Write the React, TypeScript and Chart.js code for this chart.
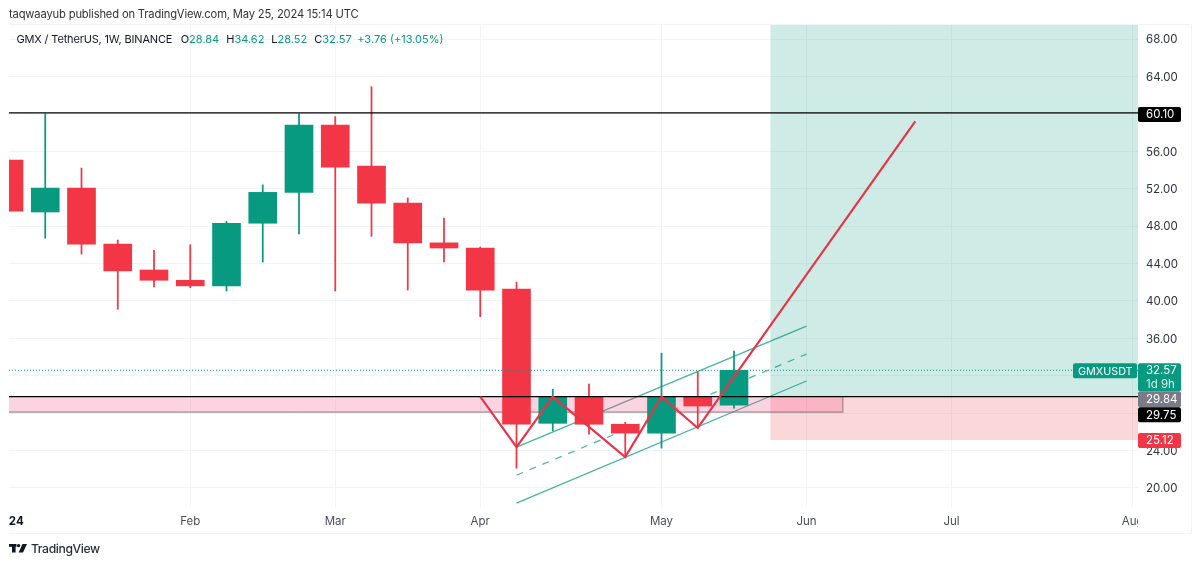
import { useEffect, useRef } from "react";
import { Chart, registerables } from "chart.js";

Chart.register(...registerables);

const UP = "#089981";
const DOWN = "#f23645";
const FONT = "Inter, 'Liberation Sans', sans-serif";

// weekly candles, index 0 is the first partly visible one
const opens = [55.06, 49.5, 52.06, 46.07, 43.3, 42.2, 41.6, 48.3, 51.6, 58.8, 54.4, 50.45, 46.2, 45.65, 41.25, 26.9, 29.7, 26.8, 25.85, 29.7, 28.84];
const closes = [49.6, 52.06, 46.07, 43.2, 42.2, 41.6, 48.3, 51.6, 58.8, 54.3, 50.45, 46.2, 45.65, 41.15, 26.8, 29.7, 26.8, 25.85, 29.7, 28.75, 32.57];
const highs = [55.06, 60, 54.2, 46.5, 45.4, 46, 48.5, 52.4, 60, 59.7, 62.9, 51, 48.85, 45.75, 42, 30.55, 31.1, 27, 34.4, 32.4, 34.62];
const lows = [49.6, 46.7, 45, 39.1, 41.5, 41.4, 41.05, 44.15, 47.15, 41.05, 46.9, 41.15, 44.15, 38.3, 22.1, 26.1, 25.75, 23.3, 24.25, 26.4, 28.52];

const priceTicks = [20, 24, 28, 32, 36, 40, 44, 48, 52, 56, 60, 64, 68];
const monthTicks = [0.2, 5, 9, 13, 18, 22, 26, 31];
const monthLabels = ["24", "Feb", "Mar", "Apr", "May", "Jun", "Jul", "Aug"];

const xMin = 0;
const xMax = 31.145;
const yMin = 17.95;
const yMax = 69.5;

// drawings
const resistance = 60.1;
const support = 29.75;
const lastPrice = 32.57;
const stopPrice = 25.12;
const zoneBottom = 28.1;
const zoneEnd = 23;
const boxStart = 21;

const channelX = [14, 22];
const channelUpper = [24.35, 37.3];
const channelMiddle = [21.35, 34.3];
const channelLower = [18.37, 31.42];

const zigzagX = [13, 14, 15, 17, 18, 19, 25];
const zigzagY = [29.75, 24.35, 29.75, 23.3, 29.75, 26.4, 59.2];

const headerLine = "taqwaayub published on TradingView.com, May 25, 2024 15:14 UTC";
const legendTitle = "GMX / TetherUS, 1W, BINANCE";
const legendParts: Array<[string, string, number]> = [
  ["O", "#131722", 0],
  ["28.84", UP, 7],
  ["H", "#131722", 0],
  ["34.62", UP, 7],
  ["L", "#131722", 0],
  ["28.52", UP, 7],
  ["C", "#131722", 0],
  ["32.57", UP, 5.5],
  ["+3.76 (+13.05%)", UP, 0],
];

const flat = (y: number, x0 = xMin, x1 = xMax) => [{ x: x0, y }, { x: x1, y }];
const pairs = (xs: number[], ys: number[]) => xs.map((x, i) => ({ x, y: ys[i] }));
const candleColor = opens.map((o, i) => (closes[i] >= o ? UP : DOWN));

const lineBase = { type: "line" as const, pointRadius: 0, borderJoinStyle: "miter" as const };

function tag(
  ctx: CanvasRenderingContext2D,
  x: number,
  top: number,
  w: number,
  h: number,
  bg: string,
  lines: string[],
  colors: string[] = ["#fff"],
  inset = 8,
  size = 11.5
) {
  ctx.fillStyle = bg;
  ctx.beginPath();
  ctx.roundRect(x, top, w, h, 2);
  ctx.fill();
  ctx.font = `${size}px ${FONT}`;
  ctx.textAlign = "left";
  ctx.textBaseline = "middle";
  const step = h / lines.length;
  lines.forEach((text, i) => {
    ctx.fillStyle = colors[i] ?? colors[0];
    ctx.fillText(text, x + inset, top + step * i + step / 2 + 0.5);
  });
}

const framePlugin = {
  id: "frame",
  beforeDraw(chart: Chart) {
    const { ctx } = chart;
    ctx.save();
    ctx.strokeStyle = "#f0f3fa";
    ctx.lineWidth = 1;
    ctx.beginPath();
    ctx.moveTo(9, 24.5);
    ctx.lineTo(1191.5, 24.5);
    ctx.lineTo(1191.5, 533.5);
    ctx.lineTo(9, 533.5);
    ctx.stroke();
    ctx.restore();
  },
};

const textPlugin = {
  id: "texts",
  afterDraw(chart: Chart) {
    const { ctx } = chart;
    const y = chart.scales.y;
    ctx.save();

    // the price axis hides the end of the last month label
    ctx.fillStyle = "#fff";
    ctx.fillRect(1138, 509, 12, 22);

    ctx.textBaseline = "middle";
    ctx.textAlign = "left";
    (ctx as any).letterSpacing = "-0.16px";
    ctx.font = `11.2px ${FONT}`;
    ctx.fillStyle = "#333";
    ctx.fillText(headerLine, 9, 14.5);

    ctx.font = `11px ${FONT}`;
    ctx.fillStyle = "#131722";
    ctx.fillText(legendTitle, 16.5, 39.5);
    (ctx as any).letterSpacing = "0px";

    let x = 180.7;
    legendParts.forEach(([text, color, gap]) => {
      ctx.fillStyle = color;
      ctx.fillText(text, x, 39.5);
      x += ctx.measureText(text).width + gap;
    });

    // price tags
    const lastTop = y.getPixelForValue(lastPrice) - 7;
    tag(ctx, 1138, y.getPixelForValue(resistance) - 6, 43, 15, "#000", ["60.10"]);
    tag(ctx, 1073, lastTop, 64, 15, UP, ["GMXUSDT"], ["#fff"], 5, 10.8);
    tag(ctx, 1138, lastTop, 43, 28, UP, ["32.57", "1d 9h"], ["#fff", "#d5efe9"]);
    tag(ctx, 1138, lastTop + 28, 43, 16, "#7b7b88", ["29.84"]);
    tag(ctx, 1138, lastTop + 44, 43, 15, "#000", ["29.75"]);
    tag(ctx, 1138, y.getPixelForValue(stopPrice) - 7, 43, 15, DOWN, ["25.12"]);

    // footer logo
    ctx.fillStyle = "#131722";
    ctx.fillRect(9, 544, 7.5, 2.8);
    ctx.fillRect(12, 544, 3.6, 8.5);
    ctx.beginPath();
    ctx.arc(18.6, 545.6, 1.7, 0, Math.PI * 2);
    ctx.fill();
    ctx.beginPath();
    ctx.moveTo(22.5, 544);
    ctx.lineTo(27, 544);
    ctx.lineTo(23, 552.5);
    ctx.lineTo(18.6, 552.5);
    ctx.closePath();
    ctx.fill();

    (ctx as any).letterSpacing = "-0.4px";
    ctx.font = `500 12.2px ${FONT}`;
    ctx.fillStyle = "#2a2e39";
    ctx.fillText("TradingView", 31, 549.5);
    ctx.restore();
  },
};

export default function App() {
  const canvasRef = useRef<HTMLCanvasElement>(null);

  useEffect(() => {
    if (!canvasRef.current) return;
    document.body.style.margin = "0";

    const chart = new Chart(canvasRef.current, {
      type: "bar",
      data: {
        datasets: [
          // take profit / stop boxes
          {
            ...lineBase,
            data: flat(yMax, boxStart),
            borderWidth: 0,
            backgroundColor: "rgba(8,153,129,0.2)",
            fill: { value: support },
            order: 10,
          },
          {
            ...lineBase,
            data: flat(stopPrice, boxStart),
            borderWidth: 0,
            backgroundColor: "rgba(242,54,69,0.2)",
            fill: { value: support },
            order: 10,
          },
          // channel
          { ...lineBase, data: pairs(channelX, channelUpper), borderColor: "rgba(8,153,129,0.75)", borderWidth: 1.2, order: 9 },
          { ...lineBase, data: pairs(channelX, channelMiddle), borderColor: "rgba(8,153,129,0.75)", borderWidth: 1.2, borderDash: [7, 7], order: 9 },
          { ...lineBase, data: pairs(channelX, channelLower), borderColor: "rgba(8,153,129,0.75)", borderWidth: 1.2, order: 9 },
          // support zone, with the grey edge on bottom and right
          {
            ...lineBase,
            data: flat(support, xMin, zoneEnd),
            borderWidth: 0,
            backgroundColor: "rgba(244,70,125,0.24)",
            fill: { value: zoneBottom },
            order: 8,
          },
          {
            ...lineBase,
            data: [{ x: xMin, y: zoneBottom }, { x: zoneEnd, y: zoneBottom }, { x: zoneEnd, y: support }],
            borderColor: "rgba(120,110,115,0.55)",
            borderWidth: 1.6,
            order: 8,
          },
          // candles
          {
            data: highs.map((h, i) => ({ x: i, y: [lows[i], h] })),
            backgroundColor: candleColor,
            barThickness: 1.1,
            grouped: false,
            order: 7,
          },
          {
            data: opens.map((o, i) => ({ x: i, y: [o, closes[i]] })),
            backgroundColor: candleColor,
            barThickness: 28,
            grouped: false,
            order: 6,
          },
          // last price
          {
            ...lineBase,
            data: flat(lastPrice),
            borderColor: UP,
            borderWidth: 1,
            borderDash: [1, 2],
            order: 5,
          },
          // horizontal levels
          { ...lineBase, data: flat(resistance), borderColor: "#000", borderWidth: 1.2, order: 4 },
          { ...lineBase, data: flat(support), borderColor: "#000", borderWidth: 1.4, order: 4 },
          // projected path
          { ...lineBase, data: pairs(zigzagX, zigzagY), borderColor: "#e8344a", borderWidth: 2.2, order: 3 },
        ] as any,
      },
      options: {
        responsive: false,
        animation: false,
        events: [],
        layout: { padding: { left: 9, top: 25, right: 9, bottom: 32 } },
        plugins: { legend: { display: false }, tooltip: { enabled: false } },
        scales: {
          x: {
            type: "linear",
            min: xMin,
            max: xMax,
            offset: false,
            border: { display: false },
            grid: {
              offset: false,
              drawTicks: false,
              color: (c: any) => (c.index === 0 ? "transparent" : "#f2f3f6"),
            },
            afterBuildTicks: (axis: any) => {
              axis.ticks = monthTicks.map((value) => ({ value }));
            },
            afterFit: (axis: any) => {
              axis.height = 26;
            },
            ticks: {
              autoSkip: false,
              maxRotation: 0,
              padding: 8,
              color: (c: any) => (c.index === 0 ? "#131722" : "#4a4e59"),
              font: (c: any) => ({ family: FONT, size: 11.5, weight: c.index === 0 ? "bold" : "normal" }),
              callback: (_v: any, i: number) => monthLabels[i],
            },
          },
          y: {
            type: "linear",
            position: "right",
            min: yMin,
            max: yMax,
            border: { display: false },
            grid: { drawTicks: false, color: "#f2f3f6" },
            afterBuildTicks: (axis: any) => {
              axis.ticks = priceTicks.map((value) => ({ value }));
            },
            afterFit: (axis: any) => {
              axis.width = 53;
            },
            ticks: {
              padding: 8,
              labelOffset: 1,
              color: "#2f333e",
              font: { family: FONT, size: 11.5 },
              callback: (v: any) => Number(v).toFixed(2),
            },
          },
        },
      } as any,
      plugins: [framePlugin, textPlugin],
    });

    return () => {
      chart.destroy();
    };
  }, []);

  return <canvas ref={canvasRef} width={1200} height={565} style={{ display: "block" }} />;
}
